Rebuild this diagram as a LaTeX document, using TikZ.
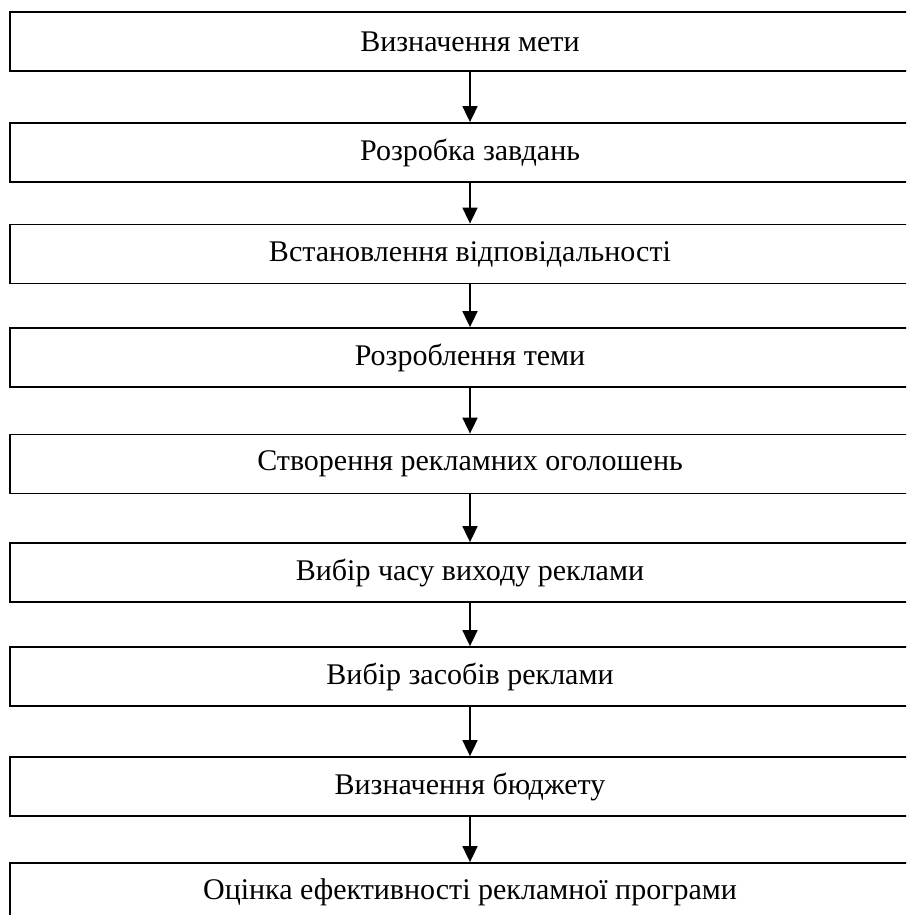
\documentclass[tikz,border=0pt]{standalone}
\usepackage{fontspec}
\setmainfont{Liberation Serif}
\usetikzlibrary{arrows.meta}
\begin{document}
\begin{tikzpicture}[x=1pt,y=1pt,
  stepbox/.style={draw=black,line width=1.8pt,minimum width=920pt,minimum height=59pt,inner sep=0pt,
    font=\fontsize{30}{36}\selectfont,anchor=center},
  flow/.style={line width=1.8pt,-{Triangle[width=15pt,length=16pt]}}]
\useasboundingbox (0,0) rectangle (906,-915);
\clip (0,0) rectangle (906,-915);
\fill[white] (0,0) rectangle (906,-915);
\node[stepbox] (b1) at (470,-41.5) {Визначення мети};
\node[stepbox] (b2) at (470,-152.5) {Розробка завдань};
\node[stepbox] (b3) at (470,-254) {Встановлення відповідальності};
\node[stepbox] (b4) at (470,-357.5) {Розроблення теми};
\node[stepbox] (b5) at (470,-464) {Створення рекламних оголошень};
\node[stepbox] (b6) at (470,-572.5) {Вибір часу виходу реклами};
\node[stepbox] (b7) at (470,-676.5) {Вибір засобів реклами};
\node[stepbox] (b8) at (470,-786.5) {Визначення бюджету};
\node[stepbox] (b9) at (470,-892.5) {Оцінка ефективності рекламної програми};
\foreach \a/\b in {b1/b2,b2/b3,b3/b4,b4/b5,b5/b6,b6/b7,b7/b8,b8/b9}
  \draw[flow] (\a.south) -- (\b.north);
\end{tikzpicture}
\end{document}
